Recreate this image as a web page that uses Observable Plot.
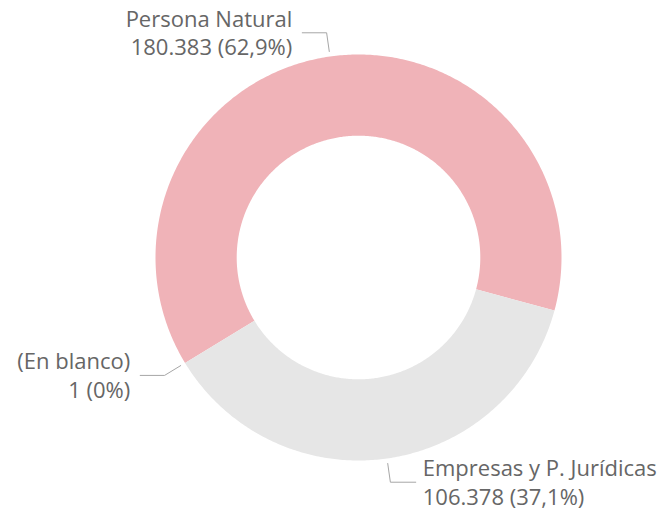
<!DOCTYPE html>
<html><head><meta charset="utf-8">
<script src="https://cdn.jsdelivr.net/npm/d3@7"></script>
<script src="https://cdn.jsdelivr.net/npm/@observablehq/plot@0.6"></script>
<style>html,body{margin:0;padding:0;background:#fff;}</style>
</head><body><div id="chart"></div>
<script>
const categories = ["Persona Natural", "Empresas y P. Jurídicas", "(En blanco)"];
const values = [180383, 106378, 1];
const colors = ["#F0B3B8", "#E6E6E6", "#8C8C8C"];

const startDeg = -121.3;
const innerR = 0.6, outerR = 1;
const total = d3.sum(values);
const loc = d3.formatLocale({decimal: ",", thousands: ".", grouping: [3], currency: ["", ""]});
const fmtNum = loc.format(",");
const fmtPct = loc.format(".1~%");

const pie = d3.pie().sort(null).value(d => d.value)
  .startAngle(startDeg * Math.PI / 180)
  .endAngle((startDeg + 360) * Math.PI / 180);
const arcs = pie(categories.map((name, i) => ({name, value: values[i]})));

const pt = (r, a) => ({x: r * Math.sin(a), y: r * Math.cos(a)});
const poly = [];
for (const a of arcs) {
  const n = Math.max(2, Math.ceil((a.endAngle - a.startAngle) / 0.01));
  for (let k = 0; k <= n; k++) {
    const t = a.startAngle + (a.endAngle - a.startAngle) * k / n;
    poly.push({name: a.data.name, ...pt(outerR, t)});
  }
  for (let k = n; k >= 0; k--) {
    const t = a.startAngle + (a.endAngle - a.startAngle) * k / n;
    poly.push({name: a.data.name, ...pt(innerR, t)});
  }
}

const leaders = [], labels = [];
for (const a of arcs) {
  const mid = (a.startAngle + a.endAngle) / 2;
  const right = Math.sin(mid) >= 0;
  const p0 = pt(1.025, mid), p1 = pt(1.118, mid);
  const p2 = {x: p1.x + (right ? 0.125 : -0.12), y: p1.y};
  for (const p of [p0, p1, p2]) leaders.push({name: a.data.name, ...p});
  labels.push({
    name: a.data.name, right, x: p2.x, y: p2.y,
    text: `${a.data.name}\n${fmtNum(a.data.value)} (${fmtPct(a.data.value / total)})`
  });
}

const chart = Plot.plot({
  width: 668, height: 515,
  marginLeft: 155, marginRight: 107, marginTop: 54, marginBottom: 55,
  x: {domain: [-1, 1], axis: null},
  y: {domain: [-1, 1], axis: null},
  color: {domain: categories, range: colors},
  style: {fontFamily: "'Open Sans', sans-serif", background: "#fff"},
  marks: [
    Plot.line(poly, {x: "x", y: "y", z: "name", fill: "name", stroke: "none", curve: "linear"}),
    Plot.line(leaders, {x: "x", y: "y", z: "name", stroke: "#A6A6A6", strokeWidth: 1}),
    Plot.text(labels.filter(d => d.right), {x: "x", y: "y", text: "text", textAnchor: "start", dx: 7, dy: -1, lineAnchor: "middle", lineHeight: 1.3, fontSize: 22, fill: "#666666"}),
    Plot.text(labels.filter(d => !d.right), {x: "x", y: "y", text: "text", textAnchor: "end", dx: -10, dy: -1, lineAnchor: "middle", lineHeight: 1.3, fontSize: 22, fill: "#666666"})
  ]
});
document.getElementById("chart").appendChild(chart);
</script>
</body></html>
